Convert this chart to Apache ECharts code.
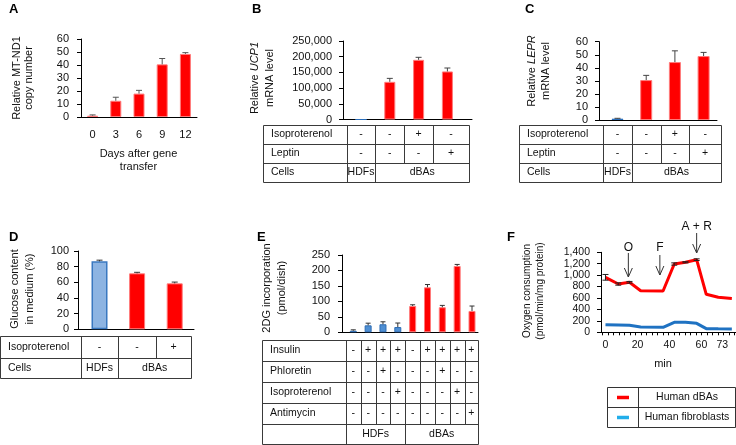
<!DOCTYPE html>
<html><head><meta charset="utf-8">
<script src="https://cdn.jsdelivr.net/npm/echarts@6/dist/echarts.min.js"></script>
<style>html,body{margin:0;padding:0;background:#fff}#c{width:736px;height:445px}</style>
</head><body><div id="c"></div>
<script>
// ---------- DATA ----------
// Panel A
const aDays = ['0', '3', '6', '9', '12'];
const aCopy = [1, 12.5, 18, 40.5, 48.5];
const aCopyErr = [0.6, 2.7, 2.5, 4.5, 1.0];
// Panel B
const bCells = ['HDFs', 'dBAs', 'dBAs', 'dBAs'];
const bIso = ['-', '-', '+', '-'];
const bLep = ['-', '-', '-', '+'];
const bUcp1 = [0, 120000, 190000, 153000];
const bUcp1Err = [0, 11000, 8000, 11000];
// Panel C
const cCells = ['HDFs', 'dBAs', 'dBAs', 'dBAs'];
const cIso = ['-', '-', '+', '-'];
const cLep = ['-', '-', '-', '+'];
const cLepr = [1, 30.6, 44.4, 49];
const cLeprErr = [0.3, 3.6, 8.6, 2.8];
// Panel D
const dCells = ['HDFs', 'dBAs', 'dBAs'];
const dIso = ['-', '-', '+'];
const dGlucose = [86.8, 71.5, 58.7];
const dGlucoseErr = [1.5, 1.3, 1.6];
// Panel E
const eCells = ['HDFs', 'HDFs', 'HDFs', 'HDFs', 'dBAs', 'dBAs', 'dBAs', 'dBAs', 'dBAs'];
const eInsulin = ['-', '+', '+', '+', '-', '+', '+', '+', '+'];
const ePhloretin = ['-', '-', '+', '-', '-', '-', '+', '-', '-'];
const eIso = ['-', '-', '-', '+', '-', '-', '-', '+', '-'];
const eAntimycin = ['-', '-', '-', '-', '-', '-', '-', '-', '+'];
const e2dg = [5, 22.5, 26, 17, 85, 145.5, 81, 214.5, 69];
const e2dgErr = [3, 7, 8, 13, 4, 9, 6, 5, 16];
// Panel F
const fMin = [0, 8, 15, 22, 36, 43, 50, 57, 63, 70.5, 79];
const fDbas = [962, 845, 875, 728, 723, 1195, 1225, 1271, 665, 612, 592];
const fDbasErr = [50, 20, 15, 0, 0, 20, 10, 15, 0, 0, 0];
const fFibro = [134, 128, 122, 93, 87, 175, 175, 157, 64, 61, 58];
const fXLabels = [0, 20, 40, 60, 73];
const fEvents = ['O', 'F', 'A + R'];
const fEventMin = [14.3, 34, 57];
const fLegend = ['Human dBAs', 'Human fibroblasts'];

// ---------- STYLE ----------
const FONT = '"Liberation Sans", Arial, sans-serif';
const INK = '#111';
const RED = '#ff0000', RED_EDGE = '#ff7a7a';
const LINE_BLUE = '#1f72c2', LEG_BLUE = '#22aeea';
const blueStyle = {
  C: {color: '#2a6ebb', borderColor: '#2a6ebb', borderWidth: 1},
  D: {color: '#8db4e2', borderColor: '#3a78c0', borderWidth: 1.5},
  E: {color: '#4f8fd3', borderColor: '#2e6db4', borderWidth: 1}
};
const redStyle = {color: RED, borderColor: RED_EDGE, borderWidth: 1};

const chart = echarts.init(document.getElementById('c'), null, {renderer: 'canvas', width: 736, height: 445});

function gridCfg(left, top, width, height) {
  return {left, top, width, height, containLabel: false, outerBoundsMode: 'none'};
}
function yAxisCfg(grid, max, interval, fontSize, margin, fmt) {
  return {
    type: 'value', gridIndex: grid, min: 0, max, interval,
    axisLine: {show: true, onZero: false, lineStyle: {color: '#000', width: 1}},
    axisTick: {show: true, length: 4, lineStyle: {color: '#000'}},
    axisLabel: {fontSize, color: INK, fontFamily: FONT, margin, formatter: fmt},
    splitLine: {show: false}
  };
}
function xValueAxis(grid, min, max) {
  return {
    type: 'value', gridIndex: grid, min, max,
    axisLine: {show: true, onZero: false, lineStyle: {color: '#000', width: 1}},
    axisTick: {show: false}, axisLabel: {show: false}, splitLine: {show: false}
  };
}
const comma = v => Number(v).toLocaleString('en-US');

function errRender(both, capW, color) {
  return function (params, api) {
    const x = api.value(0), v = api.value(1), e = api.value(2);
    if (!e) return;
    const top = api.coord([x, v + e]);
    const bot = api.coord([x, both ? v - e : v]);
    const hw = capW / 2;
    const st = {stroke: color, lineWidth: 1};
    const ch = [
      {type: 'line', shape: {x1: top[0], y1: top[1], x2: bot[0], y2: bot[1]}, style: st},
      {type: 'line', shape: {x1: top[0] - hw, y1: top[1], x2: top[0] + hw, y2: top[1]}, style: st}
    ];
    if (both) ch.push({type: 'line', shape: {x1: bot[0] - hw, y1: bot[1], x2: bot[0] + hw, y2: bot[1]}, style: st});
    return {type: 'group', children: ch};
  };
}
function errSeries(idx, vals, errs, both, capW, color) {
  return {
    type: 'custom', xAxisIndex: idx, yAxisIndex: idx, z: 5,
    encode: {x: 0, y: 1},
    data: vals.map((v, i) => [i, v, errs[i]]),
    renderItem: errRender(both, capW, color)
  };
}
function barData(vals, cells, panel) {
  return vals.map((v, i) => ({value: [i, v], itemStyle: cells[i] === 'HDFs' ? blueStyle[panel] : redStyle}));
}

// F tick marks (axis decoration)
const fTicks = [];
for (let t = -1.75; t <= 81; t += 3.44) fTicks.push(t);

const option = {
  animation: false,
  textStyle: {fontFamily: FONT},
  grid: [
    gridCfg(81, 39, 116, 78),
    gridCfg(343, 41, 129, 78.5),
    gridCfg(599, 41.7, 118, 78.3),
    gridCfg(78, 251, 116, 78.3),
    gridCfg(342, 255, 136, 77.3),
    gridCfg(601, 252.3, 135, 80)
  ],
  xAxis: [
    {type: 'category', gridIndex: 0, data: aDays,
      axisLine: {show: true, lineStyle: {color: '#000', width: 1}},
      axisTick: {show: false},
      axisLabel: {fontSize: 11, color: INK, fontFamily: FONT, margin: 12}},
    xValueAxis(1, -0.625, 3.854),
    xValueAxis(2, -0.645, 3.467),
    xValueAxis(3, -0.572, 2.513),
    xValueAxis(4, -0.761, 8.404),
    {type: 'value', gridIndex: 5, min: -2.8, max: 81.6,
      axisLine: {show: true, onZero: false, lineStyle: {color: '#000', width: 1}},
      axisTick: {show: true, length: 3, customValues: fTicks, lineStyle: {color: '#000'}},
      axisLabel: {fontSize: 10.5, color: INK, fontFamily: FONT, margin: 7, customValues: fXLabels},
      splitLine: {show: false}}
  ],
  yAxis: [
    yAxisCfg(0, 60, 10, 11, 12),
    yAxisCfg(1, 250000, 50000, 11, 11, comma),
    yAxisCfg(2, 60, 10, 11, 11),
    yAxisCfg(3, 100, 20, 11, 9),
    yAxisCfg(4, 250, 50, 11, 12),
    yAxisCfg(5, 1400, 200, 10.5, 11, comma)
  ],
  series: [
    {type: 'bar', xAxisIndex: 0, yAxisIndex: 0, barWidth: 11, data: aCopy, itemStyle: redStyle},
    errSeries(0, aCopy, aCopyErr, false, 6, '#555'),
    {type: 'bar', xAxisIndex: 1, yAxisIndex: 1, barWidth: 11, data: barData(bUcp1, bCells, 'C')},
    errSeries(1, bUcp1, bUcp1Err, false, 6, '#444'),
    {type: 'bar', xAxisIndex: 2, yAxisIndex: 2, barWidth: 12, data: barData(cLepr, cCells, 'C')},
    errSeries(2, cLepr, cLeprErr, false, 6, '#444'),
    {type: 'bar', xAxisIndex: 3, yAxisIndex: 3, barWidth: 16, data: barData(dGlucose, dCells, 'D')},
    errSeries(3, dGlucose, dGlucoseErr, false, 6, '#333'),
    {type: 'bar', xAxisIndex: 4, yAxisIndex: 4, barWidth: 7, data: barData(e2dg, eCells, 'E')},
    errSeries(4, e2dg, e2dgErr, false, 5, '#333'),
    {type: 'line', xAxisIndex: 5, yAxisIndex: 5, showSymbol: false, symbol: 'none',
      data: fFibro.map((v, i) => [fMin[i], v]), lineStyle: {color: LINE_BLUE, width: 3}, z: 3},
    {type: 'line', xAxisIndex: 5, yAxisIndex: 5, showSymbol: false, symbol: 'none',
      data: fDbas.map((v, i) => [fMin[i], v]), lineStyle: {color: RED, width: 3}, z: 4},
    {type: 'custom', xAxisIndex: 5, yAxisIndex: 5, z: 6, encode: {x: 0, y: 1},
      data: fDbas.map((v, i) => [fMin[i], v, fDbasErr[i]]), renderItem: errRender(true, 6, '#222')}
  ]
};
chart.setOption(option);

// ---------- ANNOTATIONS / TABLES ----------
const px = (ai, v) => chart.convertToPixel({xAxisIndex: ai}, v);
const py = (ai, v) => chart.convertToPixel({yAxisIndex: ai}, v);
const S = v => Math.round(v) + 0.5;
const G = [];
const lineEl = (x1, y1, x2, y2, color, w) => ({type: 'line', silent: true,
  shape: {x1, y1, x2, y2}, style: {stroke: color || '#333', lineWidth: w || 1}});
const textEl = (x, y, text, o) => ({type: 'text', silent: true, x, y,
  style: Object.assign({text, fill: INK, font: '11px ' + FONT, align: 'center', verticalAlign: 'middle'}, o || {})});

function buildTable(ai, n, x0, xRight, yEdges, rows) {
  const edges = [];
  for (let i = 0; i < n; i++) edges.push(px(ai, i - 0.5));
  edges.push(xRight);
  const X0 = S(x0), XR = S(xRight);
  const col = '#3a3a3a';
  yEdges.forEach(y => G.push(lineEl(X0, S(y), XR, S(y), col)));
  const yT = S(yEdges[0]), yB = S(yEdges[yEdges.length - 1]);
  G.push(lineEl(X0, yT, X0, yB, col));
  G.push(lineEl(XR, yT, XR, yB, col));
  G.push(lineEl(S(edges[0]), yT, S(edges[0]), yB, col));
  rows.forEach((r, ri) => {
    const y1 = S(yEdges[ri]), y2 = S(yEdges[ri + 1]), yc = (yEdges[ri] + yEdges[ri + 1]) / 2;
    if (r.label) G.push(textEl(x0 + 8, yc, r.label, {align: 'left', font: '10.5px ' + FONT}));
    let start = 0;
    for (let j = 1; j <= n; j++) {
      if (j === n || !(r.merge && r.cells[j] === r.cells[j - 1])) {
        if (j < n) G.push(lineEl(S(edges[j]), y1, S(edges[j]), y2, col));
        G.push(textEl((edges[start] + edges[j]) / 2, yc, r.cells[start], {font: '10.5px ' + FONT}));
        start = j;
      }
    }
  });
}

buildTable(1, 4, 263, 469, [125, 144, 163, 182], [
  {label: 'Isoproterenol', cells: bIso}, {label: 'Leptin', cells: bLep}, {label: 'Cells', cells: bCells, merge: true}]);
buildTable(2, 4, 519, 721, [125, 144, 163, 182], [
  {label: 'Isoproterenol', cells: cIso}, {label: 'Leptin', cells: cLep}, {label: 'Cells', cells: cCells, merge: true}]);
buildTable(3, 3, 0, 191, [336, 358, 378], [
  {label: 'Isoproterenol', cells: dIso}, {label: 'Cells', cells: dCells, merge: true}]);
buildTable(4, 9, 262, 478, [340, 361, 382, 403, 424, 444], [
  {label: 'Insulin', cells: eInsulin}, {label: 'Phloretin', cells: ePhloretin},
  {label: 'Isoproterenol', cells: eIso}, {label: 'Antimycin', cells: eAntimycin},
  {label: '', cells: eCells, merge: true}]);

// panel letters
[['A', 9, 9], ['B', 252, 9], ['C', 525, 9], ['D', 9, 237], ['E', 257, 237], ['F', 507, 237]].forEach(p =>
  G.push(textEl(p[1], p[2], p[0], {align: 'left', font: 'bold 13px ' + FONT, fill: '#000'})));

// y-axis titles (rotated)
function yTitle(x, y, text, lh, fs, rich) {
  const st = {text, fill: INK, font: fs + 'px ' + FONT, align: 'center', verticalAlign: 'middle', lineHeight: lh};
  if (rich) st.rich = rich;
  G.push({type: 'text', silent: true, x, y, rotation: Math.PI / 2, style: st});
}
const richIt = lh => ({n: {fontSize: 11, fontFamily: FONT, fill: INK, lineHeight: lh},
  i: {fontSize: 11, fontFamily: FONT, fill: INK, fontStyle: 'italic', lineHeight: lh}});
yTitle(22.5, 78, 'Relative MT-ND1\ncopy number', 12, 11);
yTitle(262.5, 78, '{n|Relative }{i|UCP1}\n{n|mRNA level}', 15, 11, richIt(15));
yTitle(538.7, 71, '{n|Relative }{i|LEPR}\n{n|mRNA level}', 14, 11, richIt(14));
yTitle(22.5, 289, 'Glucose content\nin medium (%)', 15, 11);
yTitle(274, 288, '2DG incorporation\n(pmol/dish)', 15, 11);
yTitle(533.5, 291, 'Oxygen consumption\n(pmol/min/mg protein)', 13, 10);

// x-axis names
G.push(textEl(138.5, 160.5, 'Days after gene\ntransfer', {lineHeight: 13}));
G.push(textEl(663, 363.5, 'min'));

// F event arrows
const arrowSpec = [[248, 253, 277], [248, 255, 275], [227, 233, 253]];
fEvents.forEach((name, k) => {
  const x = px(5, fEventMin[k]);
  const [ty, y1, y2] = arrowSpec[k];
  G.push(textEl(x, ty, name, {font: '12px ' + FONT}));
  G.push(lineEl(x, y1, x, y2, '#333', 1));
  G.push(lineEl(x - 4, y2 - 9, x, y2, '#333', 1));
  G.push(lineEl(x + 4, y2 - 9, x, y2, '#333', 1));
});

// F legend box
const LX0 = 607.5, LX1 = 735.5, LXD = 638.5, LY = [387.5, 407.5, 427.5];
LY.forEach(y => G.push(lineEl(LX0, y, LX1, y, '#333')));
[LX0, LXD, LX1].forEach(x => G.push(lineEl(x, LY[0], x, LY[2], '#333')));
[RED, LEG_BLUE].forEach((c, k) => {
  const yc = (LY[k] + LY[k + 1]) / 2;
  G.push(lineEl(617, yc, 629, yc, c, 3.5));
  G.push(textEl((LXD + LX1) / 2, yc, fLegend[k], {font: '10.5px ' + FONT}));
});

chart.setOption({graphic: {elements: G}});
</script>
</body></html>
